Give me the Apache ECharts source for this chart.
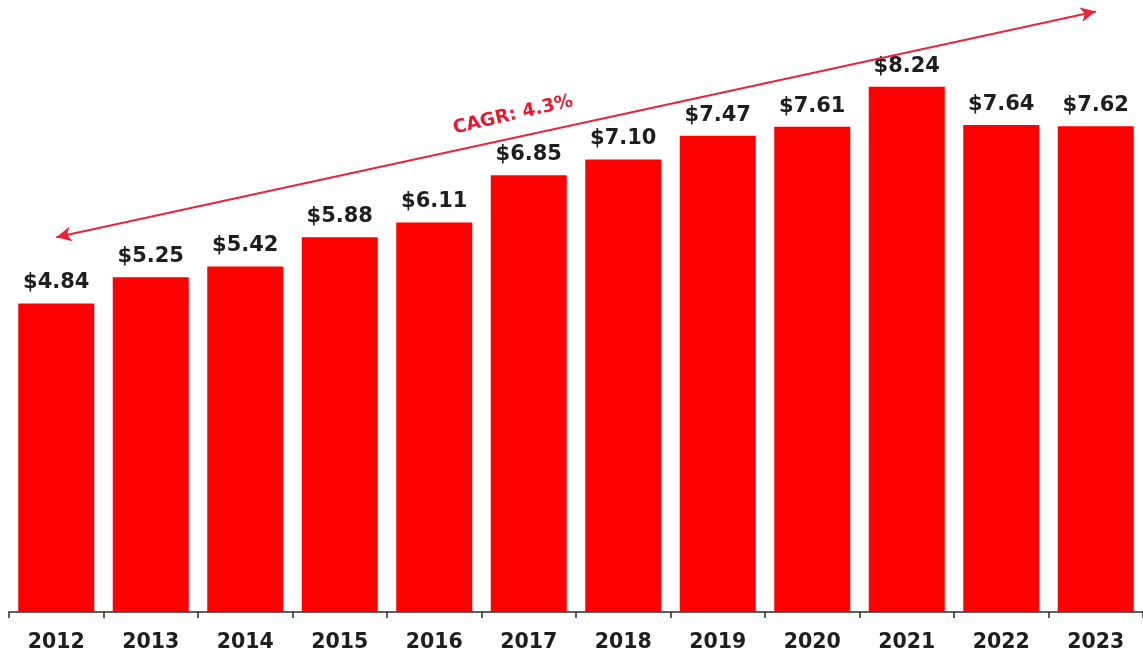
<!DOCTYPE html>
<html>
<head>
<meta charset="utf-8">
<style>
  html, body { margin: 0; padding: 0; background: #fff; }
  #chart { width: 1143px; height: 655px; }
</style>
<script src="https://cdn.jsdelivr.net/npm/echarts@6/dist/echarts.min.js"></script>
</head>
<body>
<div id="chart"></div>
<script>
// Annual values (in dollars) by year
const years = ['2012', '2013', '2014', '2015', '2016', '2017', '2018', '2019', '2020', '2021', '2022', '2023'];
const values = [4.84, 5.25, 5.42, 5.88, 6.11, 6.85, 7.10, 7.47, 7.61, 8.24, 7.64, 7.62];

// Growth trend arrow: [category index, value] at each end
const trendStart = [0, 5.88];
const trendEnd = [11, 9.42];
const trendLabel = 'CAGR: 4.3%';

const chart = echarts.init(document.getElementById('chart'), null, { renderer: 'canvas' });

const option = {
  animation: false,
  backgroundColor: '#ffffff',
  grid: { left: 9, right: 0, top: 0, bottom: 43, containLabel: false },
  xAxis: {
    type: 'category',
    data: years,
    axisLine: { show: true, lineStyle: { color: '#2b2b2b', width: 1.5 } },
    axisTick: { show: true, length: 6, lineStyle: { color: '#2b2b2b', width: 1.5 } },
    axisLabel: {
      color: '#1e1e1e',
      fontFamily: 'DejaVu Sans',
      fontWeight: 'bold',
      fontSize: 20.5,
      margin: 20
    }
  },
  yAxis: {
    type: 'value',
    min: 0,
    max: 9.6,
    show: false,
    splitLine: { show: false }
  },
  series: [{
    type: 'bar',
    data: values,
    barWidth: 76,
    itemStyle: { color: '#ff0000' },
    label: {
      show: true,
      position: 'top',
      distance: 10,
      color: '#1e1e1e',
      fontFamily: 'DejaVu Sans',
      fontWeight: 'bold',
      fontSize: 21,
      formatter: p => '$' + p.value.toFixed(2)
    },
    markLine: {
      silent: true,
      symbol: ['arrow', 'arrow'],
      symbolSize: [11, 15],
      lineStyle: { color: '#e8253a', width: 2, type: 'solid' },
      label: { show: false },
      emphasis: { disabled: true },
      data: [[
        { coord: trendStart, itemStyle: { color: '#e8253a' } },
        { coord: trendEnd, itemStyle: { color: '#ee1c1c' } }
      ]]
    }
  }],
  graphic: [{
    type: 'text',
    x: 513,
    y: 115,
    rotation: 13 * Math.PI / 180,
    style: {
      text: trendLabel,
      fill: '#e8182e',
      font: 'bold 18.5px "DejaVu Sans"',
      textAlign: 'center',
      textVerticalAlign: 'middle'
    }
  }]
};

chart.setOption(option);
</script>
</body>
</html>
